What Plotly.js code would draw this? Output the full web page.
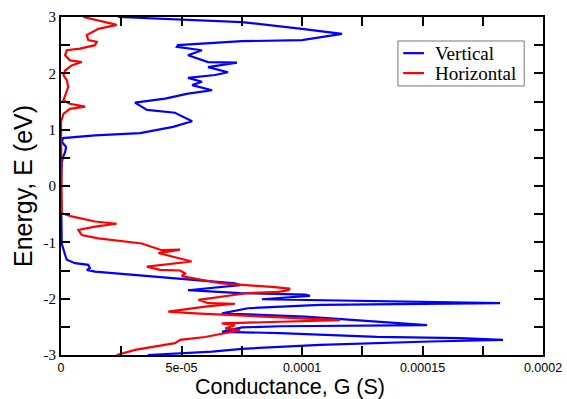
<!DOCTYPE html>
<html>
<head>
<meta charset="utf-8">
<script src="https://cdn.plot.ly/plotly-3.0.1.min.js"></script>
<style>html,body{margin:0;padding:0;background:#fff;}#chart{width:567px;height:399px;}</style>
</head>
<body>
<div id="chart"></div>
<script>
// Energy (eV) and conductance (units of 1e-5 S)
const verticalE = [3.00, 2.91, 2.79, 2.70, 2.59, 2.57, 2.50, 2.47, 2.41, 2.32, 2.20, 2.19, 2.11, 2.02, 1.97, 1.92, 1.85, 1.79, 1.70, 1.64, 1.55, 1.48, 1.35, 1.30, 1.15, 1.05, 0.94, 0.90, 0.85, 0.78, 0.69, 0.60, 0.51, 0.41, 0.0, -0.5, -1.02, -1.22, -1.31, -1.37, -1.40, -1.46, -1.49, -1.52, -1.61, -1.73, -1.76, -1.85, -1.90, -1.93, -1.95, -2.01, -2.08, -2.11, -2.17, -2.26, -2.32, -2.44, -2.47, -2.49, -2.51, -2.59, -2.61, -2.68, -2.70, -2.73, -2.76, -2.82, -2.86, -2.89, -2.94, -3.00];
const verticalG = [2.37, 7.51, 10.0, 11.66, 10.0, 7.51, 4.85, 4.81, 5.85, 5.27, 6.10, 7.30, 6.10, 6.93, 6.39, 5.27, 5.85, 5.44, 6.27, 5.27, 4.32, 3.07, 3.57, 4.73, 5.44, 4.65, 3.28, 1.41, 0.08, 0.04, 0.21, 0.17, 0.08, 0.03, 0.0, 0.0, 0.03, 0.17, 0.24, 0.58, 1.13, 1.20, 1.07, 1.41, 3.90, 7.22, 7.43, 5.27, 7.43, 10.13, 10.33, 8.34, 18.22, 10.75, 7.76, 6.68, 10.13, 14.36, 15.19, 9.09, 7.51, 6.68, 9.09, 13.11, 16.56, 18.34, 15.31, 10.75, 9.09, 7.51, 6.27, 3.6];
const horizontalE = [3.00, 2.94, 2.86, 2.79, 2.68, 2.59, 2.56, 2.50, 2.44, 2.41, 2.32, 2.23, 2.20, 2.14, 2.05, 1.97, 1.88, 1.76, 1.61, 1.52, 1.46, 1.41, 1.37, 1.28, 1.14, 0.0, -0.48, -0.54, -0.63, -0.67, -0.72, -0.78, -0.87, -0.93, -1.02, -1.14, -1.13, -1.19, -1.26, -1.34, -1.43, -1.49, -1.50, -1.55, -1.60, -1.73, -1.79, -1.82, -1.85, -1.88, -1.90, -2.02, -2.08, -2.09, -2.14, -2.23, -2.26, -2.35, -2.38, -2.41, -2.42, -2.44, -2.47, -2.53, -2.56, -2.68, -2.73, -2.79, -2.91, -3.00];
const horizontalG = [0.93, 1.55, 2.31, 1.55, 1.07, 1.13, 1.48, 1.41, 0.79, 0.24, 0.17, 0.37, 0.86, 0.44, 0.17, 0.10, 0.24, 0.30, 0.17, 0.10, 0.37, 1.00, 0.37, 0.10, 0.0, 0.0, 0.03, 0.44, 1.41, 2.31, 1.41, 0.72, 0.86, 1.55, 3.35, 4.18, 4.94, 4.04, 4.66, 5.42, 3.56, 4.11, 4.94, 5.15, 5.01, 6.67, 8.74, 9.50, 9.43, 9.02, 7.77, 5.70, 6.11, 7.22, 5.98, 4.45, 5.56, 9.99, 11.58, 9.09, 8.05, 6.67, 7.22, 6.81, 7.43, 5.98, 4.94, 4.73, 3.07, 2.31];
const seriesNames = ["Vertical", "Horizontal"];
const seriesColors = ["#0000ff", "#ff0000"];
const xTickVals = [0, 5e-5, 1e-4, 1.5e-4, 2e-4];
const xTickText = ["0", "5e-05", "0.0001", "0.00015", "0.0002"];
const yTickVals = [-3, -2, -1, 0, 1, 2, 3];
const yTickText = ["-3", "-2", "-1", "0", "1", "2", "3"];

const scale = 1e-5;
const traces = [
  {x: verticalG.map(v => v * scale), y: verticalE, name: seriesNames[0], mode: "lines", line: {color: seriesColors[0], width: 2.2}},
  {x: horizontalG.map(v => v * scale), y: horizontalE, name: seriesNames[1], mode: "lines", line: {color: seriesColors[1], width: 2.2}}
];

const axisCommon = {
  showgrid: false, zeroline: false, showline: true, linecolor: "#000", linewidth: 2,
  mirror: "ticks", ticks: "inside", ticklen: 9, tickwidth: 2, tickcolor: "#000"
};

// compact legend box (paper coordinates)
const legBox = {x0: 0.699, x1: 0.961, y0: 0.796, y1: 0.929};
const legRows = [0.893, 0.834];
const shapes = [
  {type: "rect", xref: "paper", yref: "paper", x0: legBox.x0, x1: legBox.x1, y0: legBox.y0, y1: legBox.y1,
   fillcolor: "#fff", line: {color: "#777", width: 1}, layer: "above"}
];
const annotations = [];
seriesNames.forEach((n, i) => {
  shapes.push({type: "line", xref: "paper", yref: "paper", x0: 0.710, x1: 0.753, y0: legRows[i], y1: legRows[i],
    line: {color: seriesColors[i], width: 2.2}, layer: "above"});
  annotations.push({xref: "paper", yref: "paper", x: 0.772, y: legRows[i], xanchor: "left", yanchor: "middle",
    text: n, showarrow: false, font: {family: "Liberation Serif", size: 19, color: "#000"}});
});

const layout = {
  width: 567, height: 399,
  margin: {l: 61, r: 24, t: 17, b: 44},
  paper_bgcolor: "#fff", plot_bgcolor: "#fff",
  showlegend: false,
  shapes: shapes,
  annotations: annotations,
  xaxis: Object.assign({}, axisCommon, {
    range: [0, 2e-4], tickmode: "array", tickvals: xTickVals, ticktext: xTickText,
    tickfont: {family: "Liberation Sans", size: 12.5, color: "#000"},
    minor: {dtick: 2.5e-5, tick0: 0, ticks: "inside", ticklen: 9, tickwidth: 2, tickcolor: "#000"},
    title: {text: "Conductance, G (S)", font: {family: "Liberation Sans", size: 21.5, color: "#000"}, standoff: 9}
  }),
  yaxis: Object.assign({}, axisCommon, {
    range: [-3, 3], tickmode: "array", tickvals: yTickVals, ticktext: yTickText,
    tickfont: {family: "Liberation Serif", size: 15, color: "#000"},
    minor: {dtick: 0.5, tick0: 0, ticks: "inside", ticklen: 9, tickwidth: 2, tickcolor: "#000"},
    title: {text: "Energy, E (eV)", font: {family: "Liberation Sans", size: 25, color: "#000"}, standoff: 4}
  })
};

Plotly.newPlot("chart", traces, layout, {staticPlot: true, displayModeBar: false}).then(gd => {
  // the reference's x title sits slightly left of the plot centre
  const t = gd.querySelector(".g-xtitle text");
  if (t) t.setAttribute("transform", "translate(-12,0)");
});
</script>
</body>
</html>
